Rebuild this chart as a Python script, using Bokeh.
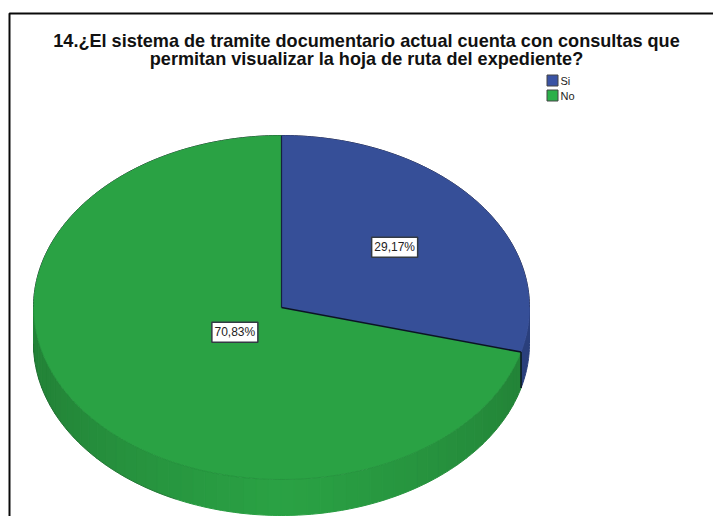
import math
from bokeh.core.properties import value
from bokeh.embed import file_html
from bokeh.models import Range1d
from bokeh.plotting import figure
from bokeh.resources import INLINE

# Survey question and answer shares
title_lines = [
    "14.¿El sistema de tramite documentario actual cuenta con consultas que",
    "permitan visualizar la hoja de ruta del expediente?",
]
categories = ["Si", "No"]
shares = [29.17, 70.83]
share_labels = ["29,17%", "70,83%"]
top_colors = ["#364f98", "#2aa244"]
legend_colors = ["#3a53a4", "#2bb04a"]
blue_wall = "#2a3f7c"
green_wall_front = (42, 162, 68)
green_wall_edge = (35, 132, 56)

W, H = 713, 516
CX, CY, RX, RY, DEPTH = 281, 307, 248, 172, 36
FONT = value("Liberation Sans")

p = figure(width=W, height=H, output_backend="svg", toolbar_location=None,
           x_range=Range1d(0, W), y_range=Range1d(H, 0), min_border=0)
p.axis.visible = False
p.grid.visible = False
p.outline_line_color = None
p.background_fill_color = "white"
p.border_fill_color = "white"


def rim(deg, dy=0.0):
    a = math.radians(deg)
    return CX + RX * math.sin(a), CY - RY * math.cos(a) + dy


def arc(a0, a1, dy=0.0, step=1.0):
    n = max(2, int(abs(a1 - a0) / step) + 1)
    pts = [rim(a0 + (a1 - a0) * i / (n - 1), dy) for i in range(n)]
    return [q[0] for q in pts], [q[1] for q in pts]


# Enclosing chart frame, open at the right and bottom edges of the page
p.line([9, 9, W], [H, 13, 13], line_color="#0a0a0a", line_width=2)

# Slice angles, clockwise from twelve o'clock
total = sum(shares)
edges = [0.0]
for s in shares:
    edges.append(edges[-1] + 360 * s / total)


# Side wall of the disc: only the front half (90-270 degrees) is visible
def wall(a0, a1, color):
    xs0, ys0 = arc(a0, a1)
    xs1, ys1 = arc(a1, a0, DEPTH)
    p.patch(xs0 + xs1, ys0 + ys1, fill_color=color, line_color=color, line_width=1)


def wall_shade(deg):
    # Brightest at the front of the disc, darkening towards its sides
    t = min(1.0, abs(deg - 180) / 70)
    c = [round(f + (e - f) * t) for f, e in zip(green_wall_front, green_wall_edge)]
    return "#%02x%02x%02x" % tuple(c)


wall(90, edges[1], blue_wall)
band_step = 3
a = edges[1]
while a < 270:
    b = min(a + band_step, 270)
    wall(a, b, wall_shade((a + b) / 2))
    a = b

# Soft outline along the lower silhouette, strongest on the left
xs_o, ys_o = arc(205, 270, DEPTH)
p.line(xs_o, ys_o, line_color="#1c4a28", line_width=1, line_alpha=0.35)
xs_u, ys_u = arc(270, 450)
p.line(xs_u, ys_u, line_color="#1a1a2a", line_width=1)

# Top face slices
for k in range(2):
    xs, ys = arc(edges[k], edges[k + 1])
    p.patch([CX] + xs, [CY] + ys, fill_color=top_colors[k], line_color=top_colors[k], line_width=0.5)

# Faint seam where the top face meets the wall
xs_f, ys_f = arc(edges[1], 270)
p.line(xs_f, ys_f, line_color="#1f7a35", line_width=0.8, line_alpha=0.4)

# Slice separators on the top face and down the wall
ex, ey = rim(edges[1])
p.line([CX, CX], [CY, CY - RY], line_color="#14213f", line_width=1.2)
p.line([CX, ex], [CY, ey], line_color="#0c1226", line_width=1.5)
p.line([ex, ex], [ey, ey + DEPTH], line_color="#0c1226", line_width=1.5)

# Value labels in white boxes, placed along each slice's middle angle
label_radius = [0.575, 0.237]
for k in range(2):
    mid = math.radians((edges[k] + edges[k + 1]) / 2)
    lx = CX + RX * label_radius[k] * math.sin(mid)
    ly = CY - RY * label_radius[k] * math.cos(mid)
    p.rect([lx], [ly], width=46, height=20, fill_color="white", line_color="#333a44", line_width=1.5)
    p.text([lx], [ly], text=[share_labels[k]], text_align="center", text_baseline="middle",
           text_font=FONT, text_font_size="12px", text_color="#222222")

# Title
for line, y in zip(title_lines, [40, 58]):
    p.text([366], [y], text=[line], text_align="center", text_baseline="middle",
           text_font=FONT, text_font_style="bold", text_font_size="18.1px", text_color="#111111")

# Legend
for k, y in enumerate([80, 95]):
    p.rect([552], [y], width=11, height=11, fill_color=legend_colors[k], line_color="#444444", line_width=1)
    p.text([560], [y], text=[categories[k]], text_align="left", text_baseline="middle",
           text_font=FONT, text_font_size="11px", text_color="#222222")

open("out.html", "w").write(file_html(p, INLINE))
